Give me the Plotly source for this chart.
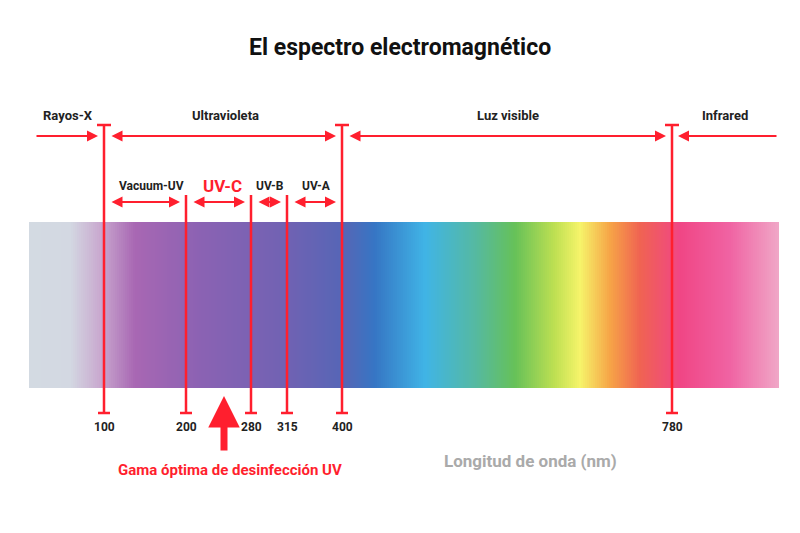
import plotly.graph_objects as go
import numpy as np

# ==============================
# Data
# ==============================
BANDS = ["Rayos-X", "Ultravioleta", "Luz visible", "Infrared"]
SUB_BANDS = ["Vacuum-UV", "UV-C", "UV-B", "UV-A"]
TICK_NM = [100, 200, 280, 315, 400, 780]

# layout helpers (canvas units, 800 x 533)
TICK_X = [104, 186, 251, 287, 342, 672]
BAND_X = [68, 225, 508, 725]
SUB_X = [151, 222, 270, 316]
RED = "#ff1f2e"
FONT = "Roboto"

SPEC_STOPS = [
    (30, "#d3dae2"), (70, "#d3d8e2"), (100, "#c9a9cf"), (135, "#a867b3"),
    (200, "#8b62b3"), (290, "#6f62b3"), (345, "#5566b6"), (375, "#3676c4"),
    (425, "#40b4e6"), (475, "#55b9a2"), (515, "#66c158"), (555, "#bfe052"),
    (580, "#f6f46a"), (610, "#f6a447"), (640, "#f06352"), (680, "#f04685"),
    (730, "#f063a3"), (778, "#f0a6c6"),
]

fig = go.Figure()

# spectrum bar (one row, y given as cell edges)
xs = np.arange(30, 779, 2)
lo, hi = SPEC_STOPS[0][0], SPEC_STOPS[-1][0]
cscale = [[(p - lo) / (hi - lo), c] for p, c in SPEC_STOPS]
fig.add_trace(go.Heatmap(x=xs, y=[222, 388], z=[xs], colorscale=cscale,
                         showscale=False, hoverinfo="skip"))

shapes = []
def line(x0, y0, x1, y1, w=2.5):
    shapes.append(dict(type="line", x0=x0, y0=y0, x1=x1, y1=y1,
                       line=dict(color=RED, width=w), xref="x", yref="y"))

for i, x in enumerate(TICK_X):
    top = 125 if i in (0, 4, 5) else 195
    line(x, top, x, 413)
    line(x - 6, 413, x + 6, 413)
    if top == 125:
        line(x - 7, top, x + 7, top)

ann = []
def arrow(x0, x1, y, both=True):
    ann.append(dict(x=x1, y=y, ax=x0, ay=y, xref="x", yref="y", axref="x", ayref="y",
                    showarrow=True, arrowhead=2, arrowsize=1, arrowwidth=2.2,
                    arrowcolor=RED, arrowside="end+start" if both else "end", text=""))

arrow(35, 98, 136, both=False)
arrow(110, 336, 136)
arrow(348, 666, 136)
arrow(778, 678, 136, both=False)
arrow(110, 180, 202)
arrow(192, 245, 202)
arrow(257, 281, 202)
arrow(293, 336, 202)
# big up arrow
ann.append(dict(x=224, y=396, ax=224, ay=452, xref="x", yref="y", axref="x", ayref="y",
                showarrow=True, arrowhead=2, arrowsize=0.9, arrowwidth=7,
                arrowcolor=RED, text=""))

def text(x, y, s, size=12, color="#222", bold=True):
    ann.append(dict(x=x, y=y, xref="x", yref="y", showarrow=False,
                    text=f"<b>{s}</b>" if bold else s,
                    font=dict(family=FONT, size=size, color=color)))

text(400, 47, "El espectro electromagnético", 23, "#111")
for x, s in zip(BAND_X, BANDS):
    text(x, 115, s, 13)
for x, s in zip(SUB_X, SUB_BANDS):
    if s == "UV-C":
        text(x, 186, s, 17, RED)
    else:
        text(x, 186, s, 12)
for x, v in zip(TICK_X, TICK_NM):
    text(x, 427, str(v), 12)
text(230, 470, "Gama óptima de desinfección UV", 15, RED)
text(530, 461, "Longitud de onda (nm)", 17, "#aaaaaa")

# ranges offset by the page's 8px body margin
fig.update_layout(
    width=800, height=533, margin=dict(l=0, r=0, t=0, b=0),
    plot_bgcolor="white", paper_bgcolor="white",
    xaxis=dict(range=[8, 808], visible=False, fixedrange=True),
    yaxis=dict(range=[541, 8], visible=False, fixedrange=True),
    shapes=shapes, annotations=ann, showlegend=False,
)

fig.write_html("out.html")
